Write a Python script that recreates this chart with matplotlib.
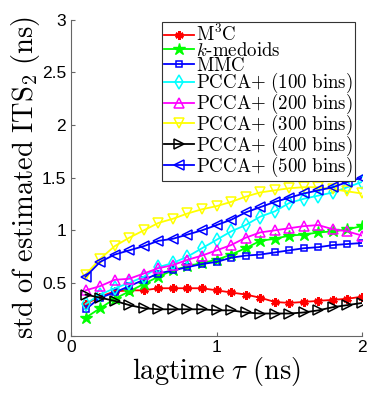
import numpy as np
import matplotlib
matplotlib.use('Agg')
import matplotlib.pyplot as plt

# 基本配置
plt.rcParams['font.family'] = ['Liberation Sans', 'DejaVu Sans']
plt.rcParams['mathtext.fontset'] = 'cm'

# lagtime (ns)
lagtime = [0.1, 0.2, 0.3, 0.4, 0.5, 0.6, 0.7, 0.8, 0.9, 1.0,
           1.1, 1.2, 1.3, 1.4, 1.5, 1.6, 1.7, 1.8, 1.9, 2.0]

m3c = [0.30, 0.37, 0.42, 0.43, 0.43, 0.45, 0.45, 0.45, 0.45, 0.43,
       0.41, 0.39, 0.36, 0.32, 0.31, 0.32, 0.33, 0.34, 0.35, 0.37]
kmedoids = [0.17, 0.26, 0.35, 0.42, 0.49, 0.56, 0.62, 0.66, 0.69, 0.72,
            0.77, 0.83, 0.90, 0.92, 0.95, 0.96, 0.98, 0.99, 1.01, 1.04]
mmc = [0.25, 0.36, 0.41, 0.47, 0.53, 0.59, 0.62, 0.65, 0.68, 0.70,
       0.74, 0.76, 0.77, 0.79, 0.81, 0.83, 0.84, 0.86, 0.87, 0.88]
pcca100 = [0.30, 0.39, 0.45, 0.50, 0.56, 0.65, 0.69, 0.75, 0.83, 0.91,
           0.99, 1.05, 1.13, 1.18, 1.26, 1.30, 1.33, 1.36, 1.41, 1.46]
pcca200 = [0.43, 0.47, 0.53, 0.54, 0.59, 0.64, 0.67, 0.72, 0.76, 0.81,
           0.86, 0.93, 0.98, 1.00, 1.02, 1.04, 1.05, 1.01, 0.99, 0.95]
pcca300 = [0.58, 0.73, 0.85, 0.93, 1.00, 1.07, 1.11, 1.16, 1.20, 1.23,
           1.27, 1.32, 1.36, 1.38, 1.40, 1.41, 1.41, 1.39, 1.37, 1.35]
pcca400 = [0.39, 0.36, 0.33, 0.29, 0.26, 0.25, 0.25, 0.25, 0.25, 0.24,
           0.24, 0.22, 0.21, 0.21, 0.21, 0.22, 0.24, 0.27, 0.29, 0.31]
pcca500 = [0.56, 0.70, 0.77, 0.81, 0.85, 0.90, 0.92, 0.96, 1.00, 1.05,
           1.10, 1.17, 1.22, 1.27, 1.31, 1.35, 1.38, 1.41, 1.46, 1.50]

labels = [r'$\mathrm{M^3C}$', r'$k\mathrm{\text{-}medoids}$', r'$\mathrm{MMC}$',
          r'$\mathrm{PCCA{+}\ (100\ bins)}$', r'$\mathrm{PCCA{+}\ (200\ bins)}$',
          r'$\mathrm{PCCA{+}\ (300\ bins)}$', r'$\mathrm{PCCA{+}\ (400\ bins)}$',
          r'$\mathrm{PCCA{+}\ (500\ bins)}$']

if __name__ == '__main__':
    fig = plt.figure(figsize=(3.74, 3.96), dpi=100)
    ax = fig.add_axes([0.19, 0.1525, 0.778, 0.7975])

    lw = 1.3
    ax.plot(lagtime, m3c, color=(1, 0, 0), marker=(6, 2, 0), ms=6, mew=1.8, lw=lw, label=labels[0])
    ax.plot(lagtime, kmedoids, color=(0, 1, 0), marker='*', ms=9, lw=lw, label=labels[1])
    ax.plot(lagtime, mmc, color=(0, 0, 1), marker='s', ms=5, mfc='none', mew=1.1, lw=lw, label=labels[2])
    ax.plot(lagtime, pcca100, color=(0, 1, 1), marker='d', ms=7, mfc='none', mew=1.1, lw=lw, label=labels[3])
    ax.plot(lagtime, pcca200, color=(1, 0, 1), marker='^', ms=6.5, mfc='none', mew=1.1, lw=lw, label=labels[4])
    ax.plot(lagtime, pcca300, color=(1, 1, 0), marker='v', ms=6.5, mfc='none', mew=1.1, lw=lw, label=labels[5])
    ax.plot(lagtime, pcca400, color=(0, 0, 0), marker='>', ms=6.5, mfc='none', mew=1.1, lw=lw, label=labels[6])
    ax.plot(lagtime, pcca500, color=(0, 0, 1), marker='<', ms=6.5, mfc='none', mew=1.1, lw=lw, label=labels[7])

    ax.set_xlim(0, 2)
    ax.set_ylim(0, 3)
    ax.set_xticks([0, 1, 2])
    ax.set_yticks([0, 0.5, 1, 1.5, 2, 2.5, 3])
    ax.set_yticklabels(['0', '0.5', '1', '1.5', '2', '2.5', '3'])
    ax.tick_params(direction='in', labelsize=12.5, color='0.4', length=3)
    ax.spines['top'].set_visible(False)
    ax.spines['right'].set_visible(False)
    ax.spines['left'].set_color('0.4')
    ax.spines['bottom'].set_color('0.4')

    ax.set_xlabel(r'$\mathrm{lagtime}\ \tau\ \mathrm{(ns)}$', fontsize=20.5, labelpad=0)
    ax.set_ylabel(r'$\mathrm{std\ of\ estimated\ ITS_2\ (ns)}$', fontsize=20.5, labelpad=0)

    leg = ax.legend(loc='upper right', bbox_to_anchor=(0.975, 0.992), borderaxespad=0,
                    fontsize=13.6, handlelength=1.6, handletextpad=0.1, labelspacing=-0.18,
                    borderpad=0.1, fancybox=False, framealpha=1, edgecolor='0.2')
    leg.get_frame().set_linewidth(0.8)

    plt.savefig('out.png', dpi=100)
